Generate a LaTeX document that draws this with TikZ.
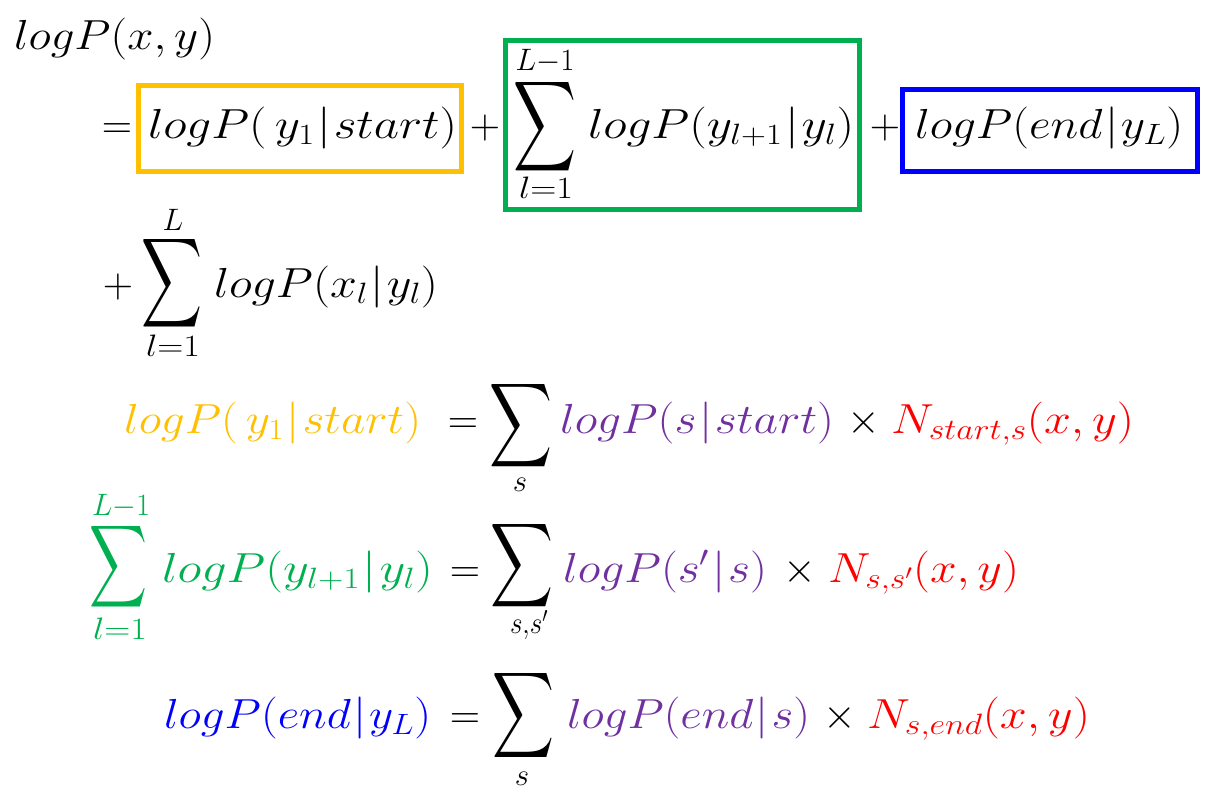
\RequirePackage{fix-cm}
\documentclass[tikz,border=0pt]{standalone}
\usepackage{amsmath}
\usepackage{graphicx}
\definecolor{cyel}{HTML}{FFC000}
\definecolor{cgrn}{HTML}{00B050}
\definecolor{cblu}{HTML}{0000FF}
\definecolor{cpur}{HTML}{7030A0}
\definecolor{cred}{HTML}{FF0000}
\newcommand{\fw}[2]{\resizebox{#1pt}{\height}{$#2$}}
\newcommand{\bsum}[2]{\resizebox*{#1pt}{#2pt}{\fontsize{10}{12}\selectfont$\displaystyle\sum$}}
\newcommand{\vb}{\mkern1mu|\mkern1mu}
\begin{document}
\begin{tikzpicture}[x=1pt,y=-1pt,
  every node/.style={inner sep=0pt,outer sep=0pt},
  main/.style={font=\fontsize{42}{50}\selectfont,anchor=base west},
  op/.style={font=\fontsize{42}{50}\selectfont,anchor=base},
  lim/.style={font=\fontsize{31}{36}\selectfont,anchor=center},
  sig/.style={anchor=center},
  hbox/.style={line width=5pt}]
\useasboundingbox[fill=white] (0,0) rectangle (1217,804);

% line 1
\node[main] (t1) at (14,49) {\fw{201}{logP(x,y)}};

% line 2
\node[op] (eq1) at (117,138) {$=$};
\draw[hbox,cyel] (138,85) rectangle (461.5,171.5);
\node[main] (t2a) at (148,138) {\fw{309}{logP(\,y_1\vb start)}};
\node[op] (pl1) at (485,138) {$+$};
\draw[hbox,cgrn] (505.5,40.5) rectangle (859.5,209.5);
\node[sig] (s1) at (545,127) {\bsum{63}{101}};
\node[lim] (s1u) at (545,61) {\fw{59}{L{-}1}};
\node[lim] (s1l) at (546,188) {\fw{54}{l{=}1}};
\node[main] (t2b) at (588,138) {\fw{266}{logP(y_{l+1}\vb y_l)}};
\node[op] (pl2) at (885,138) {$+$};
\draw[hbox,cblu] (902.5,89.5) rectangle (1197.5,171.5);
\node[main] (t2c) at (915,138) {\fw{268}{logP(end\vb y_L)}};

% line 3
\node[op] (pl3) at (118,297) {$+$};
\node[sig] (s2) at (172,283) {\bsum{61}{100}};
\node[lim] (s2u) at (173,220) {$L$};
\node[lim] (s2l) at (173,346) {\fw{54}{l{=}1}};
\node[main] (t3) at (214,297) {\fw{224}{logP(x_l\vb y_l)}};

% line 4
\node[main,text=cyel] (t4a) at (124,433) {\fw{297}{logP(\,y_1\vb start)}};
\node[op] (eq4) at (463,433) {$=$};
\node[sig] (s3) at (521,426) {\bsum{63}{94}};
\node[lim] (s3l) at (520,485) {$s$};
\node[main,text=cpur] (t4b) at (560,433) {\fw{274}{logP(s\vb start)}};
\node[op] (x4) at (864,433) {$\times$};
\node[main,text=cred] (t4c) at (891,433) {\fw{243}{N_{start,s}(x,y)}};

% line 5
\node[sig,text=cgrn] (s4) at (119,567) {\bsum{58}{92}};
\node[lim,text=cgrn] (s4u) at (121,506) {\fw{58}{L{-}1}};
\node[lim,text=cgrn] (s4l) at (120,629) {\fw{54}{l{=}1}};
\node[main,text=cgrn] (t5a) at (162,582) {\fw{271}{logP(y_{l+1}\vb y_l)}};
\node[op] (eq5) at (465,582) {$=$};
\node[sig] (s5) at (522,566) {\bsum{63}{94}};
\node[lim] (s5l) at (529,625) {\fw{38}{s{,}s'}};
\node[main,text=cpur] (t5b) at (563,582) {\fw{204}{logP(s'\vb s)}};
\node[op] (x5) at (800,582) {$\times$};
\node[main,text=cred] (t5c) at (828,582) {\fw{191}{N_{s,s'}(x,y)}};

% line 6
\node[main,text=cblu] (t6a) at (164,728) {\fw{267}{logP(end\vb y_L)}};
\node[op] (eq6) at (465,728) {$=$};
\node[sig] (s6) at (523,715) {\bsum{62}{96}};
\node[lim] (s6l) at (522,779) {$s$};
\node[main,text=cpur] (t6b) at (567,728) {\fw{243}{logP(end\vb s)}};
\node[op] (x6) at (840,728) {$\times$};
\node[main,text=cred] (t6c) at (867,728) {\fw{223}{N_{s,end}(x,y)}};
\end{tikzpicture}
\end{document}
